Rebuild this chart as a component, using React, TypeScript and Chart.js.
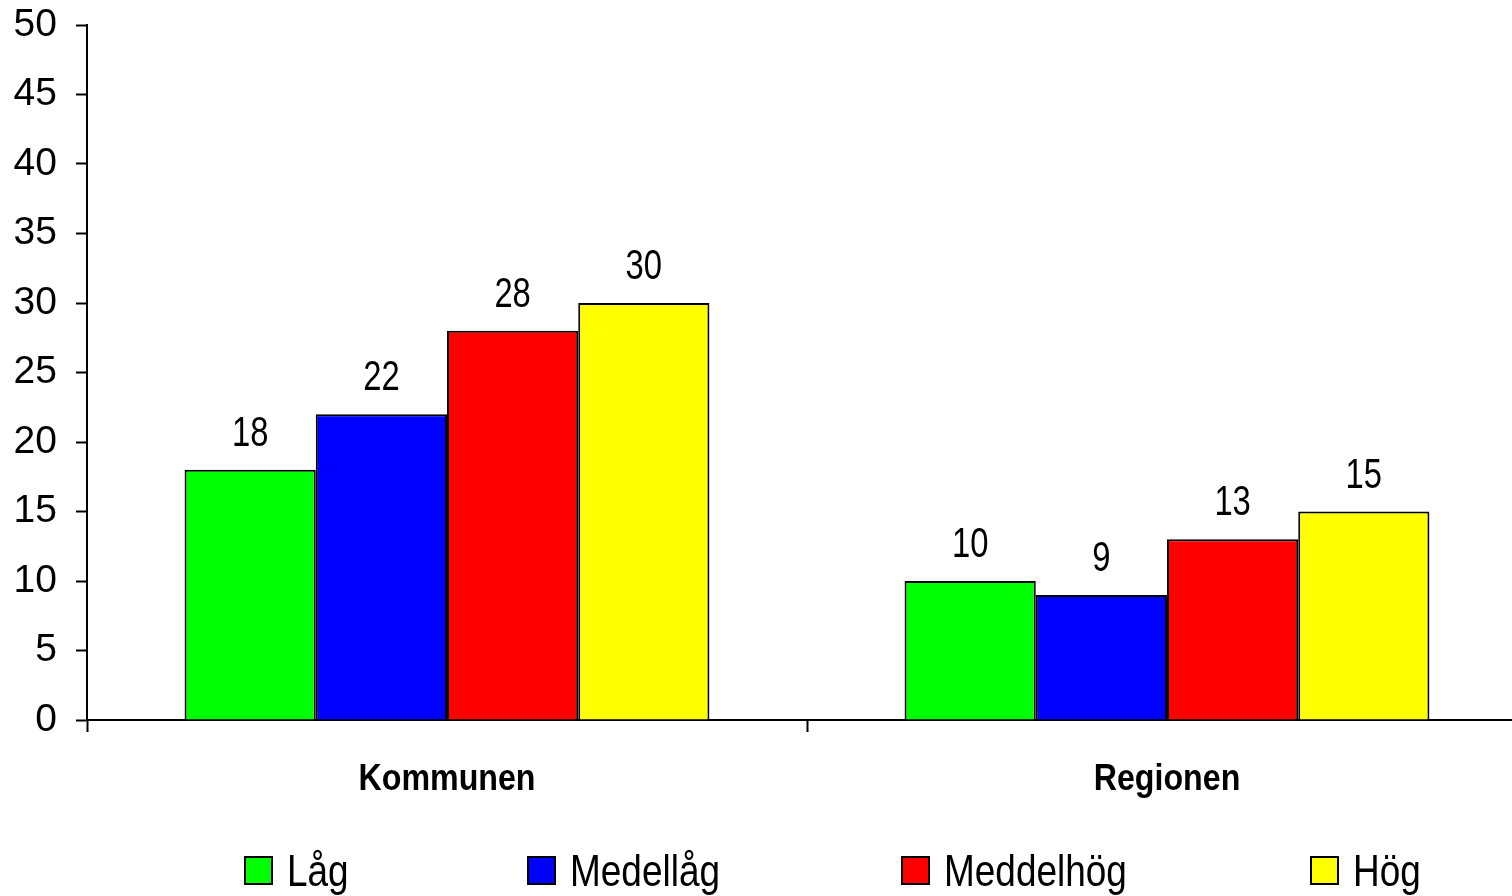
import React, { useEffect, useRef } from "react";
import { Chart, registerables } from "chart.js";

Chart.register(...registerables);

const categories = ["Kommunen", "Regionen"];
const seriesNames = ["Låg", "Medellåg", "Meddelhög", "Hög"];
const seriesColors = ["#00FF00", "#0000FF", "#FF0000", "#FFFF00"];
const lagValues = [18, 10];
const medellagValues = [22, 9];
const meddelhogValues = [28, 13];
const hogValues = [30, 15];
const yTicks = [0, 5, 10, 15, 20, 25, 30, 35, 40, 45, 50];

const seriesValues = [lagValues, medellagValues, meddelhogValues, hogValues];
const legendLeft = [244, 527, 901, 1310];

const REGULAR = "'Liberation Sans', Arial, sans-serif";

function drawScaledText(ctx: any, text: string, x: number, y: number, sx: number) {
  ctx.save();
  ctx.translate(x, y);
  ctx.scale(sx, 1);
  ctx.fillText(text, 0, 0);
  ctx.restore();
}

const customLabels = {
  id: "customLabels",
  afterDatasetsDraw(chart: any) {
    const ctx = chart.ctx;
    ctx.save();
    ctx.fillStyle = "#000";
    ctx.textAlign = "center";
    ctx.textBaseline = "alphabetic";
    ctx.font = `42px ${REGULAR}`;
    chart.data.datasets.forEach((ds: any, i: number) => {
      chart.getDatasetMeta(i).data.forEach((bar: any, j: number) => {
        drawScaledText(ctx, String(ds.data[j]), bar.x, bar.y - 24, 0.78);
      });
    });
    const xs = chart.scales.x;
    ctx.font = `bold 37px ${REGULAR}`;
    chart.data.labels.forEach((lab: string, i: number) => {
      drawScaledText(ctx, lab, xs.getPixelForValue(i), 790, 0.87);
    });
    ctx.restore();
  },
};

export default function App() {
  const ref = useRef<HTMLCanvasElement>(null);

  useEffect(() => {
    document.body.style.margin = "0";
    document.body.style.overflow = "hidden";
    const chart = new Chart(ref.current!, {
      type: "bar",
      data: {
        labels: categories,
        datasets: seriesNames.map((name, i) => ({
          label: name,
          data: seriesValues[i],
          backgroundColor: seriesColors[i],
          borderColor: "#000",
          borderWidth: 2,
          barPercentage: 1,
          categoryPercentage: 0.729,
        })),
      },
      options: {
        animation: false,
        responsive: false,
        maintainAspectRatio: false,
        layout: { padding: { top: 25, left: 0, right: 0, bottom: 0 } },
        plugins: {
          legend: { display: false },
          tooltip: { enabled: false },
        },
        scales: {
          x: {
            grid: {
              display: true,
              drawOnChartArea: false,
              drawTicks: true,
              tickLength: 12,
              tickWidth: 2,
              tickColor: "#000",
              offset: true,
            },
            border: { display: true, color: "#000", width: 2 },
            ticks: { display: false },
            afterFit(scale: any) {
              scale.height = 896 - 720;
              scale.paddingLeft = 0;
              scale.paddingRight = 0;
            },
          },
          y: {
            min: 0,
            max: 50,
            afterBuildTicks(scale: any) {
              scale.ticks = yTicks.map((v) => ({ value: v }));
            },
            grid: {
              display: true,
              drawOnChartArea: false,
              drawTicks: true,
              tickLength: 11,
              tickWidth: 2,
              tickColor: "#000",
            },
            border: { display: true, color: "#000", width: 2 },
            ticks: {
              color: "#000",
              padding: 19,
              font: { family: REGULAR, size: 39 },
            },
            afterFit(scale: any) {
              scale.width = 87;
              scale.paddingTop = 0;
              scale.paddingBottom = 0;
            },
          },
        },
      },
      plugins: [customLabels],
    });
    return () => chart.destroy();
  }, []);

  return (
    <div style={{ position: "relative", width: 1527, height: 896, overflow: "hidden" }}>
      <canvas ref={ref} width={1527} height={896} style={{ display: "block" }} />
      {seriesNames.map((name, i) => (
        <div
          key={name}
          style={{
            position: "absolute",
            left: legendLeft[i],
            top: 849,
            display: "flex",
            alignItems: "flex-start",
            whiteSpace: "nowrap",
          }}
        >
          <div
            style={{
              width: 29,
              height: 29,
              boxSizing: "border-box",
              border: "2px solid #000",
              background: seriesColors[i],
              marginTop: 7,
              marginRight: 14,
            }}
          />
          <div
            style={{
              font: `44px ${REGULAR}`,
              lineHeight: "44px",
              color: "#000",
              transform: "scaleX(0.84)",
              transformOrigin: "left top",
            }}
          >
            {name}
          </div>
        </div>
      ))}
    </div>
  );
}
